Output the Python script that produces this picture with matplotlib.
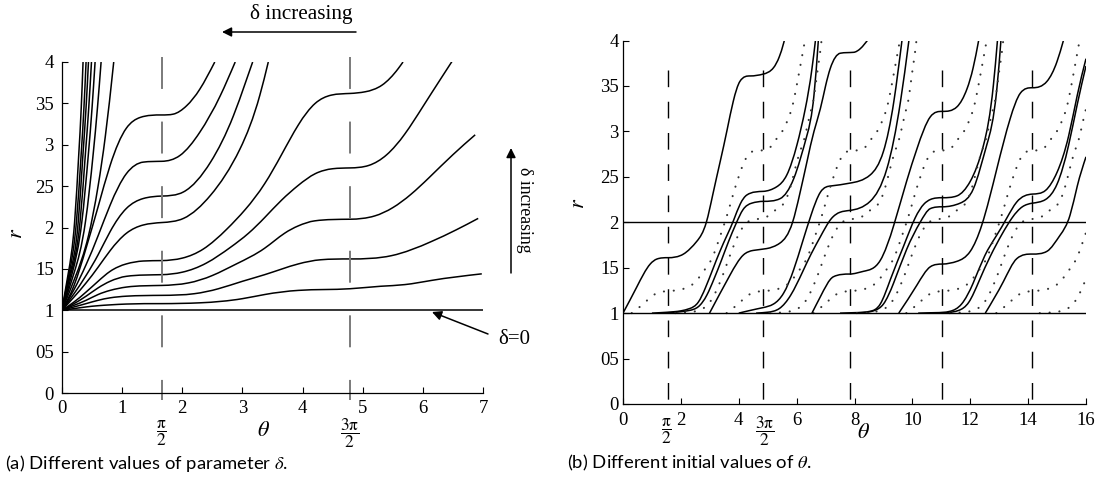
import numpy as np
import matplotlib
matplotlib.use('Agg')
import matplotlib.pyplot as plt
from matplotlib.path import Path
from matplotlib.patches import PathPatch, FancyArrowPatch

plt.rcParams['font.family'] = ['Liberation Serif', 'DejaVu Serif']
plt.rcParams['mathtext.fontset'] = 'stix'
plt.rcParams['lines.scale_dashes'] = False

# ---------------- data: panel (a) ----------------
y_ticks = [0, 0.5, 1, 1.5, 2, 2.5, 3, 3.5, 4]
y_ticklabels = ['0', '05', '1', '15', '2', '25', '3', '35', '4']
a_xticks = [0, 1, 2, 3, 4, 5, 6, 7]
a_dashed = [1.66, 4.79]
a_delta0 = [(0, 1), (7, 1)]

S1 = [(0, 1), (0.105, 1.45), (0.21, 2.07), (0.28, 2.9), (0.32, 3.45), (0.35, 4.0)]
S2 = [(0, 1), (0.12, 1.45), (0.24, 2.07), (0.32, 2.9), (0.365, 3.45), (0.40, 4.0)]
S3 = [(0, 1), (0.135, 1.45), (0.27, 2.07), (0.35, 2.9), (0.40, 3.45), (0.44, 4.0)]
S4 = [(0, 1), (0.15, 1.45), (0.30, 2.07), (0.39, 2.9), (0.445, 3.45), (0.49, 4.0)]
S5 = [(0, 1), (0.17, 1.45), (0.33, 2.07), (0.44, 2.9), (0.50, 3.45), (0.55, 4.0)]
S6 = [(0, 1), (0.20, 1.45), (0.39, 2.07), (0.52, 2.9), (0.59, 3.45), (0.65, 4.0)]
S7 = [(0, 1), (0.22, 1.40), (0.44, 1.90), (0.6, 2.5), (0.72, 3.1), (0.86, 4.0)]
L9 = [(0, 1), (0.2, 1.3), (0.4, 1.75), (0.6, 2.25), (0.8, 2.75), (1.07, 3.2), (1.30, 3.33),
      (1.66, 3.36), (1.85, 3.37), (2.07, 3.47), (2.29, 3.67), (2.54, 4.0)]
L8 = [(0, 1), (0.2, 1.25), (0.4, 1.55), (0.6, 1.9), (0.8, 2.27), (1.07, 2.65), (1.35, 2.79),
      (1.66, 2.80), (1.96, 2.87), (2.29, 3.15), (2.63, 3.59), (2.88, 4.0)]
L7 = [(0, 1), (0.2, 1.2), (0.4, 1.42), (0.6, 1.67), (0.8, 1.95), (1.07, 2.23), (1.35, 2.35),
      (1.66, 2.38), (2.02, 2.43), (2.47, 2.79), (2.85, 3.35), (3.05, 3.75), (3.17, 4.0)]
L6 = [(0, 1), (0.2, 1.16), (0.4, 1.33), (0.6, 1.52), (0.8, 1.72), (1.07, 1.93), (1.35, 2.03),
      (1.66, 2.06), (2.02, 2.11), (2.47, 2.39), (2.96, 2.95), (3.29, 3.60), (3.43, 4.0)]
L5 = [(0, 1), (0.2, 1.10), (0.4, 1.22), (0.6, 1.35), (0.8, 1.47), (1.07, 1.56), (1.35, 1.595),
      (1.66, 1.60), (2.0, 1.63), (2.35, 1.74), (2.74, 1.98), (3.05, 2.22), (3.37, 2.53), (3.65, 2.88),
      (3.93, 3.24), (4.21, 3.50), (4.48, 3.60), (4.79, 3.62), (5.04, 3.64), (5.32, 3.72),
      (5.59, 3.92), (5.67, 4.0)]
L4 = [(0, 1), (0.2, 1.08), (0.4, 1.17), (0.6, 1.27), (0.8, 1.35), (1.07, 1.41), (1.66, 1.43),
      (2.0, 1.46), (2.4, 1.57), (2.8, 1.76), (3.1, 1.93), (3.37, 2.12), (3.65, 2.33), (3.93, 2.51),
      (4.21, 2.65), (4.5, 2.71), (4.79, 2.72), (5.1, 2.75), (5.4, 2.88), (5.7, 3.13), (6.0, 3.46),
      (6.3, 3.80), (6.55, 4.08)]
L3 = [(0, 1), (0.2, 1.06), (0.4, 1.12), (0.6, 1.19), (0.8, 1.24), (1.07, 1.28), (1.66, 1.30),
      (2.1, 1.33), (2.5, 1.42), (2.9, 1.56), (3.37, 1.75), (3.7, 1.93), (3.93, 2.02), (4.2, 2.08),
      (4.79, 2.10), (5.2, 2.14), (5.5, 2.24), (5.8, 2.40), (6.1, 2.60), (6.5, 2.88), (6.87, 3.12)]
L2 = [(0, 1), (0.2, 1.04), (0.4, 1.08), (0.6, 1.12), (0.8, 1.15), (1.07, 1.17), (1.66, 1.18),
      (2.2, 1.20), (2.6, 1.26), (3.0, 1.35), (3.37, 1.43), (3.93, 1.56), (4.3, 1.61),
      (4.79, 1.62), (5.48, 1.66), (6.14, 1.83), (6.55, 1.97), (6.92, 2.11)]
L1 = [(0, 1), (0.2, 1.02), (0.4, 1.04), (0.6, 1.055), (0.8, 1.065), (1.07, 1.075), (1.66, 1.08),
      (2.3, 1.09), (3.0, 1.14), (3.37, 1.19), (3.93, 1.24), (4.79, 1.26), (5.3, 1.29),
      (5.7, 1.31), (6.14, 1.36), (6.98, 1.44)]
a_curves = [S1, S2, S3, S4, S5, S6, S7, L9, L8, L7, L6, L5, L4, L3, L2, L1]

# ---------------- data: panel (b) ----------------
b_xticks = [0, 2, 4, 6, 8, 10, 12, 14, 16]
b_dashed = [1.55, 4.83, 7.83, 11.04, 14.15]
b_hlines = [1, 2]

A0 = [(0, 1), (0.48, 1.29), (0.94, 1.54), (1.17, 1.595), (1.55, 1.61), (2.09, 1.65), (2.55, 1.79),
      (2.88, 2.0), (3.1, 2.3), (3.36, 2.67), (3.6, 3.02), (3.81, 3.33), (4.04, 3.55), (4.4, 3.61),
      (4.84, 3.63), (5.2, 3.70), (5.4, 3.82), (5.55, 3.97), (5.6, 4.03)]
A1 = [(2.99, 1.0), (3.70, 1.42), (4.16, 1.64), (4.50, 1.69), (4.96, 1.71), (5.42, 1.77), (5.86, 2.0),
      (6.1, 2.3), (6.36, 2.67), (6.6, 3.0), (6.82, 3.25), (7.0, 3.5), (7.16, 3.69), (7.51, 3.86),
      (7.97, 3.87), (8.2, 3.91), (8.49, 4.02)]
A2 = [(6.53, 1.0), (6.82, 1.18), (7.27, 1.40), (7.84, 1.43), (8.31, 1.46), (8.89, 1.58), (9.36, 1.97),
      (9.8, 2.45), (10.16, 2.81), (10.62, 3.16), (11.04, 3.22), (11.54, 3.27), (11.89, 3.47),
      (12.1, 3.7), (12.29, 4.0)]
A3 = [(9.53, 1.0), (10.16, 1.31), (10.62, 1.51), (11.04, 1.54), (11.54, 1.57), (12.0, 1.68),
      (12.4, 1.97), (12.92, 2.59), (13.38, 3.14), (13.73, 3.42), (14.15, 3.48), (14.65, 3.55),
      (15.0, 3.77), (15.22, 4.0)]
A4 = [(12.52, 1.0), (13.15, 1.35), (13.61, 1.60), (14.15, 1.65), (14.65, 1.68), (15.11, 1.86),
      (15.45, 2.08), (15.7, 2.4), (16.0, 2.72)]
P1u = [(1.0, 1.0), (1.55, 1.01), (2.0, 1.025), (2.3, 1.05), (2.6, 1.12), (2.85, 1.28), (3.1, 1.48),
       (3.35, 1.68), (3.6, 1.86), (3.82, 2.02), (4.05, 2.2), (4.28, 2.30), (4.85, 2.34), (5.31, 2.39),
       (5.66, 2.52), (6.01, 2.85), (6.30, 3.25), (6.53, 3.69), (6.65, 4.0)]
P1l = [(1.3, 1.0), (1.8, 1.01), (2.3, 1.03), (2.6, 1.07), (2.9, 1.2), (3.15, 1.38), (3.4, 1.58),
       (3.65, 1.79), (3.9, 1.98), (4.15, 2.14), (4.45, 2.21), (4.85, 2.23), (5.43, 2.26), (5.9, 2.48),
       (6.36, 2.96), (6.6, 3.4), (6.75, 4.0)]
P2u = [(4.0, 1.0), (4.4, 1.03), (4.83, 1.06), (5.2, 1.1), (5.55, 1.22), (5.9, 1.48), (6.2, 1.78),
       (6.5, 2.08), (6.82, 2.33), (7.2, 2.40), (7.83, 2.43), (8.54, 2.52), (9.0, 2.78), (9.36, 3.33),
       (9.64, 4.0)]
P2l = [(4.6, 1.0), (5.0, 1.01), (5.4, 1.05), (5.8, 1.2), (6.2, 1.45), (6.5, 1.65), (6.82, 1.84),
       (7.2, 2.04), (7.5, 2.11), (7.83, 2.13), (8.54, 2.23), (9.12, 2.59), (9.59, 3.33), (9.88, 4.0)]
P3u = [(7.5, 1.0), (8.0, 1.005), (8.54, 1.02), (8.89, 1.1), (9.24, 1.37), (9.7, 1.74), (10.1, 2.05),
       (10.4, 2.2), (10.62, 2.25), (11.04, 2.27), (11.54, 2.29), (12.0, 2.45), (12.46, 2.85),
       (12.8, 3.51), (12.94, 4.0)]
P3l = [(7.9, 1.0), (8.3, 1.005), (8.7, 1.03), (9.0, 1.1), (9.35, 1.33), (9.8, 1.7), (10.27, 2.0),
       (10.62, 2.15), (11.04, 2.17), (11.65, 2.21), (12.11, 2.37), (12.57, 2.85), (12.92, 3.47),
       (13.06, 4.0)]
P4u = [(10.2, 1.0), (10.8, 1.005), (11.3, 1.02), (11.7, 1.1), (12.1, 1.33), (12.5, 1.63),
       (12.9, 1.85), (13.27, 2.05), (13.6, 2.22), (14.15, 2.31), (14.6, 2.35), (15.0, 2.55),
       (15.4, 2.95), (15.7, 3.4), (16.0, 3.8)]
P4l = [(10.6, 1.0), (11.2, 1.005), (11.6, 1.03), (11.95, 1.12), (12.3, 1.35), (12.7, 1.63),
       (13.1, 1.87), (13.45, 2.05), (13.8, 2.17), (14.15, 2.21), (14.6, 2.25), (15.0, 2.42),
       (15.4, 2.85), (15.7, 3.3), (16.0, 3.72)]
b_solid = [A0, A1, A2, A3, A4, P1u, P1l, P2u, P2l, P3u, P3l, P4u, P4l]

D1 = [(0.3, 1.0), (0.73, 1.11), (1.06, 1.20), (1.46, 1.24), (1.84, 1.25), (2.2, 1.28), (2.55, 1.36),
      (2.78, 1.46), (3.07, 1.6), (3.36, 1.85), (3.58, 2.06), (3.8, 2.3), (4.05, 2.55), (4.28, 2.72),
      (4.69, 2.79), (5.03, 2.81), (5.31, 2.92), (5.54, 3.02), (5.71, 3.14), (5.83, 3.25), (6.0, 3.5),
      (6.23, 3.9), (6.3, 4.02)]
D2 = [(1.8, 1.0), (2.3, 1.01), (2.7, 1.04), (3.0, 1.12), (3.3, 1.3), (3.6, 1.55), (3.9, 1.8),
      (4.2, 1.97), (4.5, 2.03), (4.97, 2.06), (5.2, 2.12), (5.6, 2.23), (5.77, 2.37), (5.95, 2.59),
      (6.12, 2.78), (6.3, 2.96), (6.47, 3.2), (6.59, 3.36), (6.7, 3.62), (6.82, 3.89), (6.86, 4.0)]
b_dotted = [D1, D2]
group_shift = [0, 3.28, 6.28, 9.49, 12.6]


# ---------------- drawing helpers ----------------
def spline_slopes(x, y):
    """C2 cubic-spline slopes, then clamped so the drawn curve stays monotone."""
    n = len(x)
    h = np.diff(x)
    d = np.diff(y) / h
    A = np.zeros((n, n))
    b = np.zeros(n)
    A[0, 0], A[0, 1], b[0] = 2, 1, 3 * d[0]
    A[-1, -2], A[-1, -1], b[-1] = 1, 2, 3 * d[-1]
    for k in range(1, n - 1):
        A[k, k - 1] = h[k]
        A[k, k] = 2 * (h[k - 1] + h[k])
        A[k, k + 1] = h[k - 1]
        b[k] = 3 * (h[k] * d[k - 1] + h[k - 1] * d[k])
    m = np.linalg.solve(A, b)
    for k in range(n - 1):
        if d[k] == 0:
            m[k] = m[k + 1] = 0.0
            continue
        a_, b_ = m[k] / d[k], m[k + 1] / d[k]
        if a_ < 0:
            m[k], a_ = 0.0, 0.0
        if b_ < 0:
            m[k + 1], b_ = 0.0, 0.0
        s = a_ * a_ + b_ * b_
        if s > 9:
            t = 3 / np.sqrt(s)
            m[k] = t * a_ * d[k]
            m[k + 1] = t * b_ * d[k]
    return m


def smooth_path(pts, dx=0.0):
    x = np.array([p[0] for p in pts], float) + dx
    y = np.array([p[1] for p in pts], float)
    h = np.diff(x)
    m = spline_slopes(x, y)
    verts = [(x[0], y[0])]
    codes = [Path.MOVETO]
    for k in range(len(x) - 1):
        verts += [(x[k] + h[k] / 3, y[k] + m[k] * h[k] / 3),
                  (x[k + 1] - h[k] / 3, y[k + 1] - m[k + 1] * h[k] / 3),
                  (x[k + 1], y[k + 1])]
        codes += [Path.CURVE4] * 3
    return Path(verts, codes)


def draw(ax, pts, dx=0.0, **kw):
    ax.add_patch(PathPatch(smooth_path(pts, dx), fill=False, **kw))


W, H = 1106, 484
fig = plt.figure(figsize=(W / 100, H / 100), dpi=100)


def fp(x, y):
    return (x / W, 1 - y / H)


def style_axes(ax, xticks, xlim, pad_x):
    for s in ['top', 'right']:
        ax.spines[s].set_visible(False)
    for s in ['left', 'bottom']:
        ax.spines[s].set_linewidth(0.9)
    ax.set_xlim(*xlim)
    ax.set_ylim(0, 4)
    ax.set_xticks(xticks)
    ax.set_xticklabels([str(t) for t in xticks])
    ax.set_yticks(y_ticks)
    ax.set_yticklabels(y_ticklabels)
    ax.tick_params(direction='in', length=4, width=0.8, labelsize=13.5)
    ax.tick_params(axis='x', pad=pad_x)


def arrow(p0, p1):
    fig.add_artist(FancyArrowPatch(fp(*p0), fp(*p1), transform=fig.transFigure,
                                   arrowstyle='-|>', mutation_scale=14, lw=1.1, color='black',
                                   shrinkA=0, shrinkB=0))


HALF_PI = r'$\dfrac{\mathrm{\pi}}{2}$'
THREE_HALF_PI = r'$\dfrac{3\mathrm{\pi}}{2}$'

# ---------------- panel (a) ----------------
ax1 = fig.add_axes([62 / W, 91 / H, 421 / W, 331 / H])
style_axes(ax1, a_xticks, (0, 7), 5)
ax1.tick_params(axis='y', pad=6)
for c in a_curves:
    draw(ax1, c, lw=1.1, edgecolor='black')
ax1.plot([p[0] for p in a_delta0], [p[1] for p in a_delta0], color='black', lw=1.1)
for xd in a_dashed:
    ax1.plot([xd, xd], [4.06, -0.085], color='#7a7a7a', lw=1.4, dashes=(23, 23.5), clip_on=False)
ax1.text(a_dashed[0], -0.49, HALF_PI, ha='center', va='center', fontsize=12.5)
ax1.text(a_dashed[1], -0.49, THREE_HALF_PI, ha='center', va='center', fontsize=12.5)
ax1.text(3.35, -0.47, r'$\theta$', ha='center', va='center', fontsize=16)
fig.text(*fp(17, 233), r'$r$', rotation=90, ha='center', va='center', fontsize=16)

# annotations panel (a)
fig.text(*fp(301, 14), 'δ increasing', ha='center', va='center', fontsize=15.3)
arrow((356, 32), (222, 32))
fig.text(*fp(524, 210), 'δ increasing', rotation=-90, ha='center', va='center', fontsize=12.8)
arrow((511, 273), (511, 148))
fig.text(*fp(514, 340), 'δ=0', ha='center', va='center', fontsize=15)
arrow((488, 334), (432, 312))

# ---------------- panel (b) ----------------
ax2 = fig.add_axes([623 / W, 80 / H, 463 / W, 363.5 / H])
style_axes(ax2, b_xticks, (0, 16), 6)
ax2.tick_params(axis='y', pad=3)
for yv in b_hlines:
    ax2.plot([0, 16], [yv, yv], color='black', lw=1.0)
for c in b_solid:
    draw(ax2, c, lw=1.1, edgecolor='black')
for sh in group_shift:
    for c in b_dotted:
        draw(ax2, c, dx=sh, lw=1.5, edgecolor='#333333', linestyle=(0, (0.1, 7.0)), capstyle='round')
for xd in b_dashed:
    ax2.plot([xd, xd], [3.67, 0.0], color='black', lw=1.0, dashes=(12, 10.5), clip_on=False)
ax2.text(b_dashed[0] - 0.05, -0.30, HALF_PI, ha='center', va='center', fontsize=12.5)
ax2.text(b_dashed[1] + 0.07, -0.30, THREE_HALF_PI, ha='center', va='center', fontsize=12.5)
ax2.text(8.3, -0.32, r'$\theta$', ha='center', va='center', fontsize=16)
fig.text(*fp(579, 203), r'$r$', rotation=90, ha='center', va='center', fontsize=16)

# captions
fig.text(*fp(5, 463), r'(a) Different values of parameter $\delta$.', ha='left', va='center',
         fontsize=13.3, family=['Lato', 'DejaVu Sans'])
fig.text(*fp(567, 463), r'(b) Different initial values of $\theta$.', ha='left', va='center',
         fontsize=13.3, family=['Lato', 'DejaVu Sans'])

fig.savefig('out.png', dpi=100)
